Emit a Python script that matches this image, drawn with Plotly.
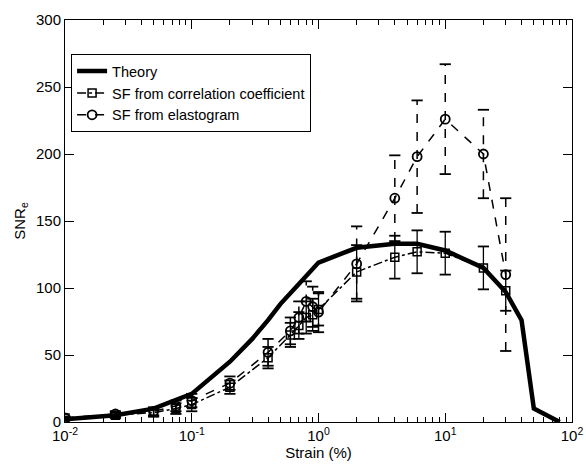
import plotly.graph_objects as go

# Theory curve
theory_x = [0.01, 0.025, 0.05, 0.1, 0.2, 0.3, 0.4, 0.5, 0.7, 1.0, 2.0, 4.0, 6.0, 10.0, 20.0, 30.0, 40.0, 50.0, 80.0]
theory_y = [2, 5, 10, 21, 45, 62, 76, 88, 103, 119, 130, 133, 133, 128, 115, 97, 76, 10, 0]

# SF from correlation coefficient (squares)
cc_x = [0.01, 0.025, 0.05, 0.075, 0.1, 0.2, 0.4, 0.6, 0.7, 0.8, 0.9, 1.0, 2.0, 4.0, 6.0, 10.0, 20.0, 30.0]
cc_y = [3, 5, 7, 10, 13, 26, 48, 65, 72, 78, 80, 84, 112, 123, 127, 126, 115, 98]
cc_err = [1, 2, 3, 4, 5, 5, 8, 9, 10, 12, 12, 12, 20, 16, 16, 16, 16, 15]

# SF from elastogram (circles)
el_x = [0.01, 0.025, 0.05, 0.075, 0.1, 0.2, 0.4, 0.6, 0.7, 0.8, 0.9, 1.0, 2.0, 4.0, 6.0, 10.0, 20.0, 30.0]
el_y = [3, 6, 8, 12, 16, 29, 52, 68, 78, 90, 86, 82, 118, 167, 198, 226, 200, 110]
el_err = [1, 2, 3, 4, 5, 5, 10, 10, 12, 15, 15, 15, 28, 32, 42, 41, 33, 57]

x_tick_vals = [0.01, 0.1, 1, 10, 100]
x_tick_text = ["10<sup>-2</sup>", "10<sup>-1</sup>", "10<sup>0</sup>", "10<sup>1</sup>", "10<sup>2</sup>"]
y_tick_vals = [0, 50, 100, 150, 200, 250, 300]


def err_segments(xs, ys, es):
    sx, sy = [], []
    for x, y, e in zip(xs, ys, es):
        sx += [x, x, None]
        sy += [y - e, y + e, None]
    return sx, sy


def cap_points(xs, ys, es):
    cx, cy = [], []
    for x, y, e in zip(xs, ys, es):
        cx += [x, x]
        cy += [y - e, y + e]
    return cx, cy


fig = go.Figure()

# error bars - correlation coefficient (solid)
sx, sy = err_segments(cc_x, cc_y, cc_err)
fig.add_trace(go.Scatter(x=sx, y=sy, mode="lines", line=dict(color="black", width=1.3),
                         showlegend=False, hoverinfo="skip"))
cx, cy = cap_points(cc_x, cc_y, cc_err)
fig.add_trace(go.Scatter(x=cx, y=cy, mode="markers",
                         marker=dict(symbol="line-ew", size=8, line=dict(color="black", width=1.8)),
                         showlegend=False, hoverinfo="skip"))

# error bars - elastogram (dashed)
sx, sy = err_segments(el_x, el_y, el_err)
fig.add_trace(go.Scatter(x=sx, y=sy, mode="lines", line=dict(color="black", width=1.5, dash="dash"),
                         showlegend=False, hoverinfo="skip"))
cx, cy = cap_points(el_x, el_y, el_err)
fig.add_trace(go.Scatter(x=cx, y=cy, mode="markers",
                         marker=dict(symbol="line-ew", size=8, line=dict(color="black", width=1.8)),
                         showlegend=False, hoverinfo="skip"))

fig.add_trace(go.Scatter(x=theory_x, y=theory_y, mode="lines", name="Theory",
                         line=dict(color="black", width=4.5)))
fig.add_trace(go.Scatter(x=cc_x, y=cc_y, mode="lines+markers", name="SF from correlation coefficient",
                         line=dict(color="black", width=1.5, dash="dashdot"),
                         marker=dict(symbol="square-open", size=8, color="black", line=dict(width=1.5))))
fig.add_trace(go.Scatter(x=el_x, y=el_y, mode="lines+markers", name="SF from elastogram",
                         line=dict(color="black", width=1.5, dash="dash"),
                         marker=dict(symbol="circle-open", size=9, color="black", line=dict(width=1.8))))

font = "Liberation Sans, Arial, sans-serif"
fig.update_layout(
    width=586, height=467,
    margin=dict(l=65, r=14, t=20, b=45),
    paper_bgcolor="white", plot_bgcolor="white",
    font=dict(family=font, size=15, color="black"),
    legend=dict(x=0.012, y=0.915, xanchor="left", yanchor="top",
                bgcolor="white", bordercolor="black", borderwidth=1,
                font=dict(size=14.5, family=font), tracegroupgap=0, itemwidth=30),
    xaxis=dict(type="log", range=[-2, 2], tickvals=x_tick_vals, ticktext=x_tick_text,
               ticks="inside", ticklen=9, tickcolor="black", showline=True, linecolor="black",
               linewidth=1, mirror="ticks", showgrid=False, zeroline=False, automargin=False,
               tickfont=dict(size=15),
               title=dict(text="Strain (%)", standoff=2, font=dict(size=15)),
               minor=dict(ticks="inside", ticklen=5, tickcolor="black", showgrid=False,
                          tickvals=[m * 10 ** k for k in (-2, -1, 0, 1) for m in range(2, 10)])),
    yaxis=dict(range=[0, 300], tickvals=y_tick_vals,
               ticks="inside", ticklen=9, tickcolor="black", showline=True, linecolor="black",
               linewidth=1, mirror="ticks", showgrid=False, zeroline=False, automargin=False,
               tickfont=dict(size=15),
               title=dict(text="SNR<sub>e</sub>", standoff=6, font=dict(size=15))),
)

fig.write_html("out.html")
